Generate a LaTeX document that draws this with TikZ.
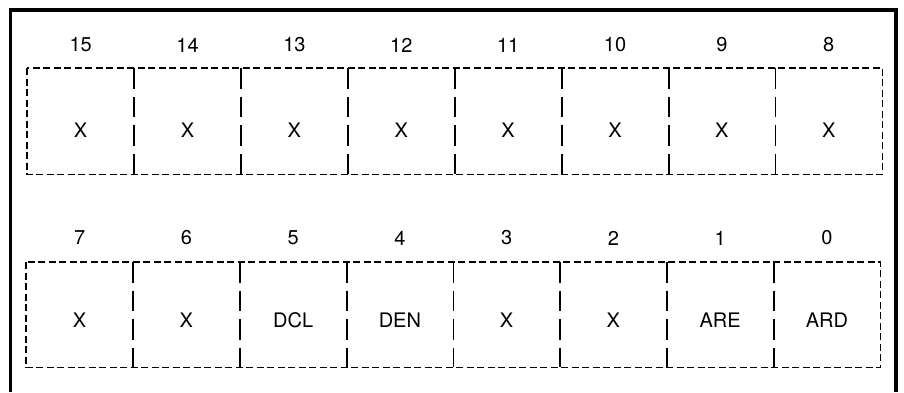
\documentclass[tikz,border=0pt]{standalone}
\usepackage{fontspec}
\setmainfont{TeX Gyre Heros}
\begin{document}
\begin{tikzpicture}[x=1pt,y=-1pt,
  cell/.style={minimum width=106.875pt, minimum height=106pt, inner sep=0pt, anchor=north west},
  cellb/.style={cell, minimum height=105pt},
  lab/.style={font=\fontsize{20}{22}\selectfont, inner sep=0pt},
  outer/.style={line width=1.6pt, dash pattern=on 7pt off 3.5pt},
  divider/.style={line width=1.9pt, dash pattern=on 20.5pt off 8pt},
  frame/.style={line width=3.6pt, line join=miter}]
\useasboundingbox (0,0) rectangle (904,392);
\draw[frame] (10.5,392) -- (10.5,10) -- (896,10) -- (896,392);
% row 1
\foreach \i/\t [count=\k from 0] in {15/X,14/X,13/X,12/X,11/X,10/X,9/X,8/X} {
  \node[cell] (c\i) at (27+106.875*\k, 68) {};
  \node[lab] (t\i) at ([yshift=-9pt]c\i.center) {\t};
  \node[lab] (n\i) at ([yshift=23pt]c\i.north) {\i};
}
\draw[outer] (c15.north west) rectangle (c8.south east);
\foreach \a in {15,14,13,12,11,10,9} \draw[divider] (c\a.north east) -- (c\a.south east);
% row 2
\foreach \i/\t [count=\k from 0] in {7/X,6/X,5/DCL,4/DEN,3/X,2/X,1/ARE,0/ARD} {
  \node[cellb] (c\i) at (26+106.75*\k, 262) {};
  \node[lab] (t\i) at ([yshift=-5pt]c\i.center) {\t};
  \node[lab] (n\i) at ([yshift=24pt]c\i.north) {\i};
}
\draw[outer] (c7.north west) rectangle (c0.south east);
\foreach \a in {7,6,5,4,3,2,1} \draw[divider] (c\a.north east) -- (c\a.south east);
\end{tikzpicture}
\end{document}
